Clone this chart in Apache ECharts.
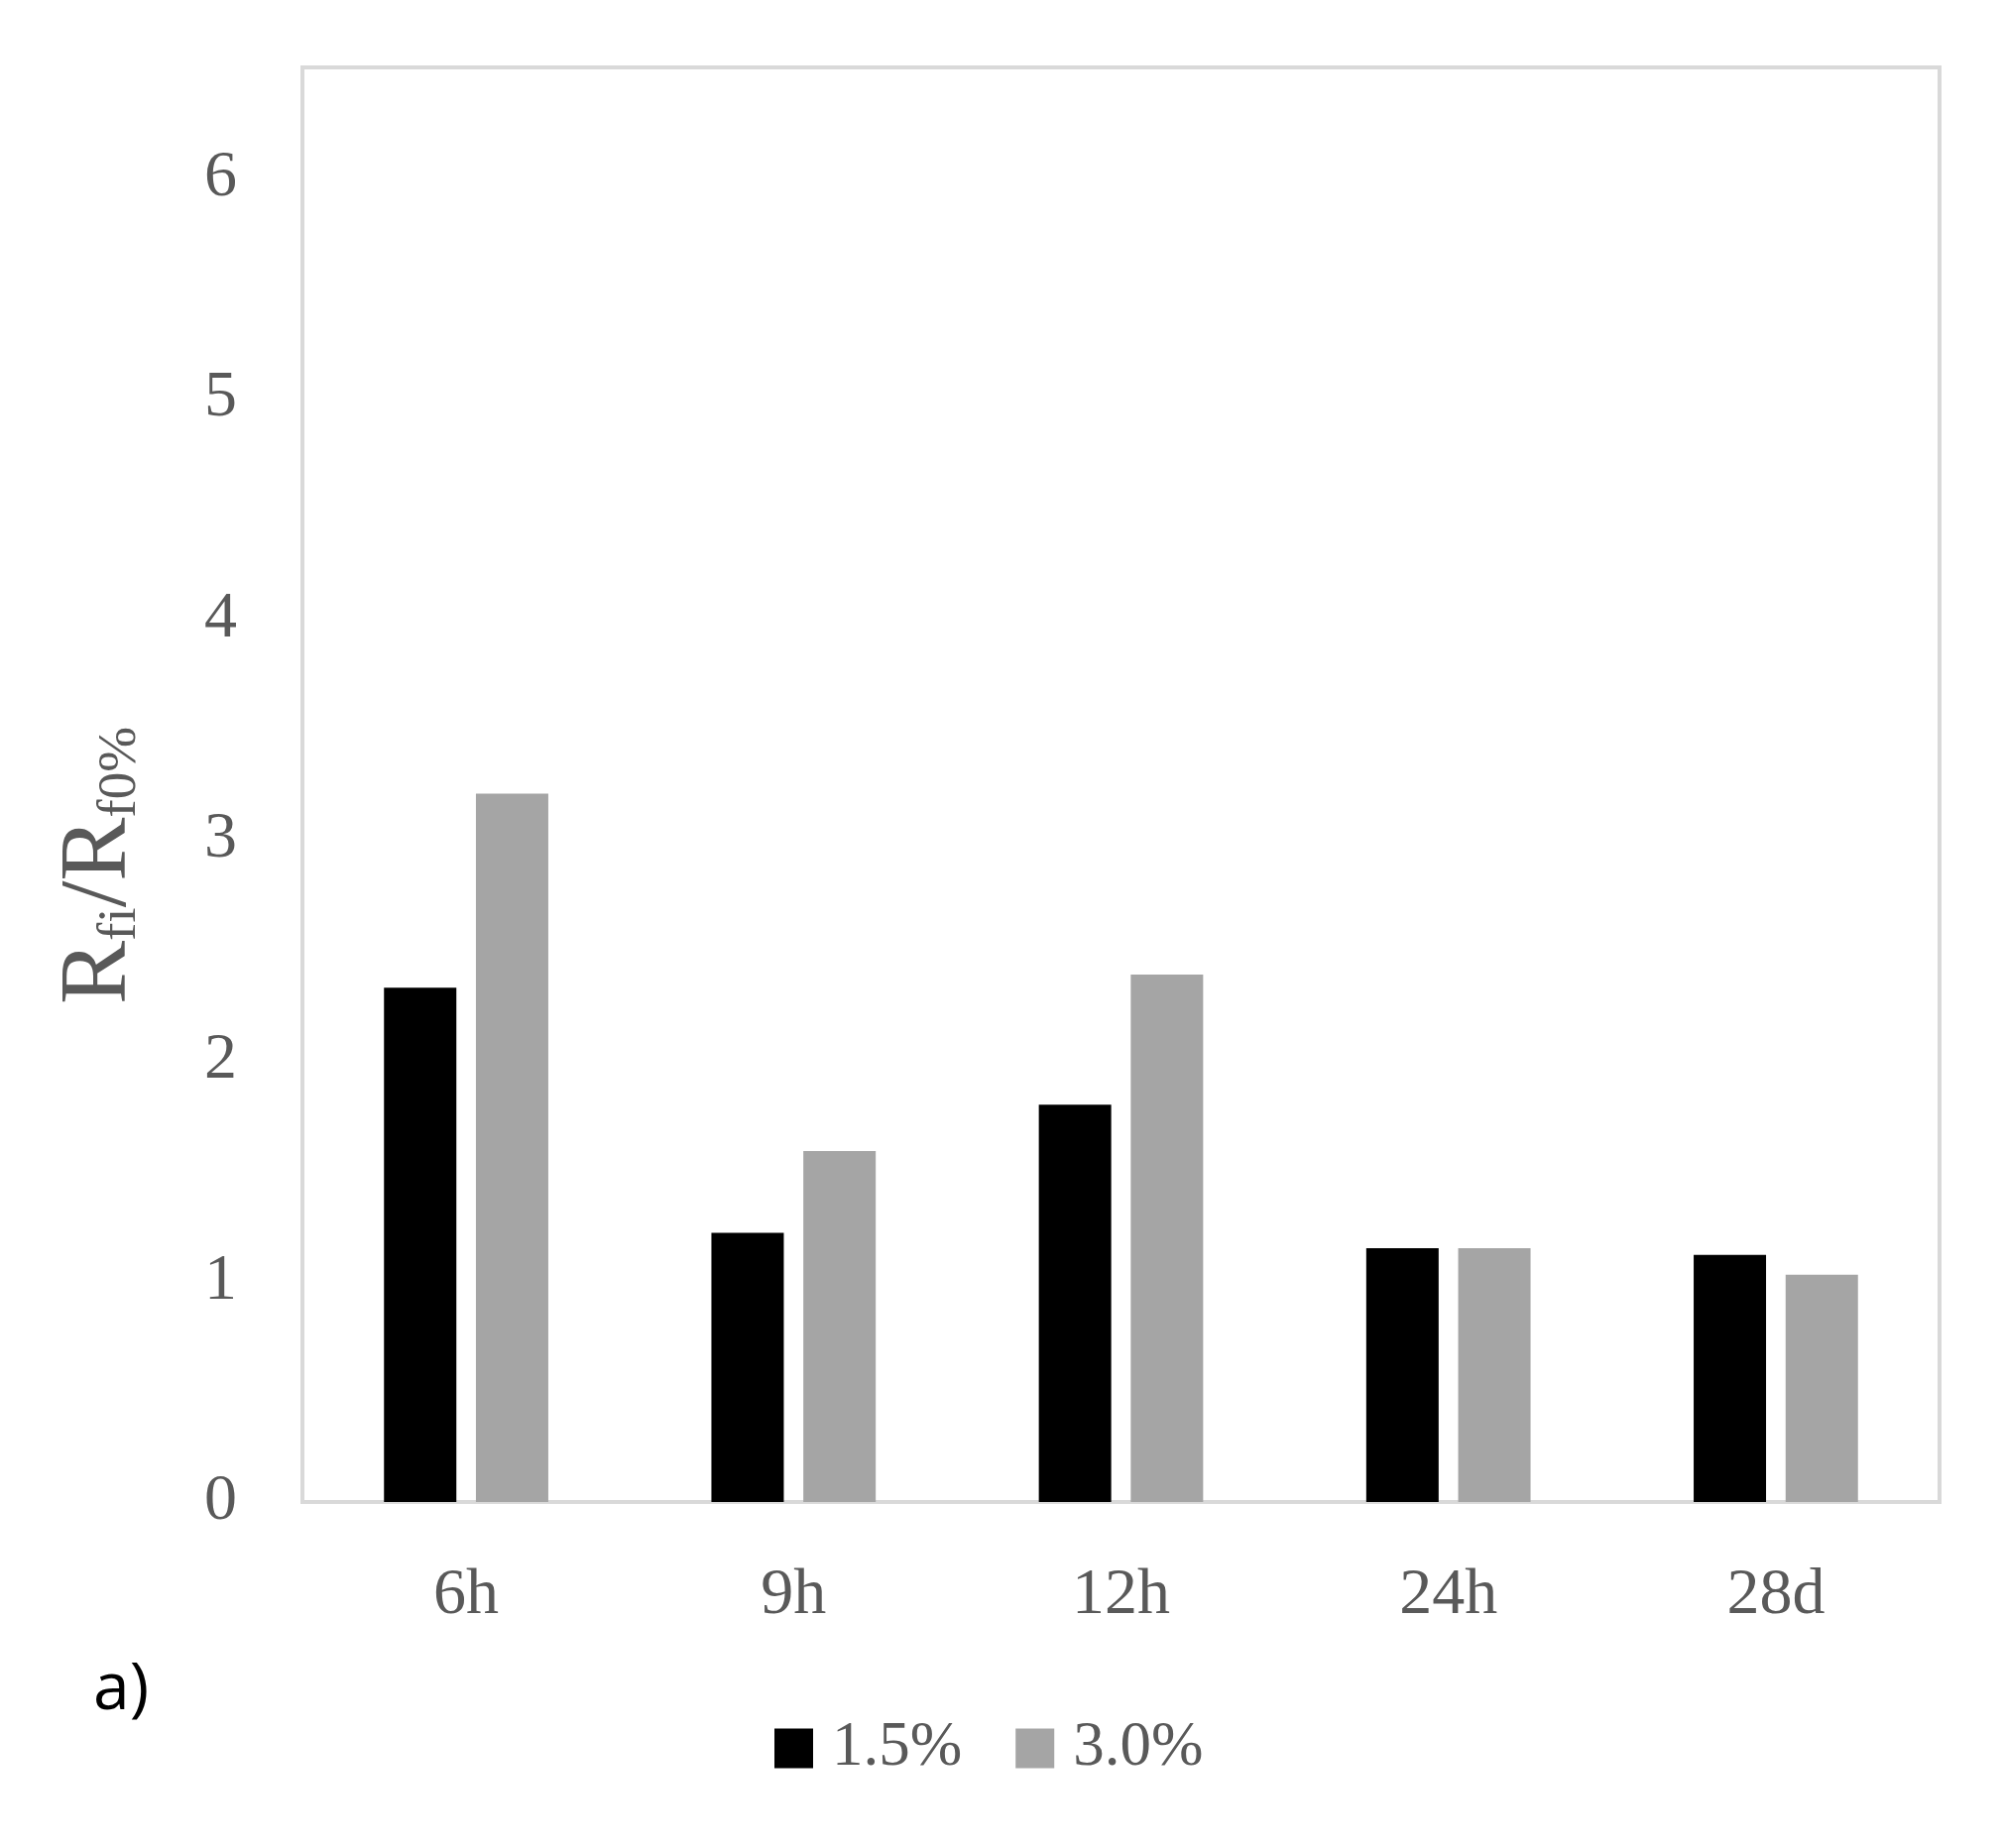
<!DOCTYPE html>
<html>
<head>
<meta charset="utf-8">
<script src="https://cdn.jsdelivr.net/npm/echarts@6/dist/echarts.min.js"></script>
<style>html,body{margin:0;padding:0;background:#fff;}#chart{width:2020px;height:1864px;}</style>
</head>
<body>
<div id="chart"></div>
<script>
const categories = ['6h', '9h', '12h', '24h', '28d'];
const series15 = [2.33, 1.22, 1.80, 1.15, 1.12];
const series30 = [3.21, 1.59, 2.39, 1.15, 1.03];
const seriesNames = ['1.5%', '3.0%'];

const serif = '"Liberation Serif", "DejaVu Serif", serif';
const chart = echarts.init(document.getElementById('chart'), null, {renderer: 'canvas'});
chart.setOption({
  backgroundColor: '#ffffff',
  animation: false,
  grid: {left: 305, right: 64, top: 68, bottom: 349, show: true, borderColor: '#d9d9d9', borderWidth: 4, backgroundColor: 'transparent'},
  legend: {
    data: seriesNames,
    left: 776, top: 1727,
    itemWidth: 39, itemHeight: 40, itemGap: 54,
    icon: 'rect',
    textStyle: {fontFamily: serif, fontSize: 63, color: '#595959', padding: [0, 0, 0, 14]}
  },
  xAxis: {
    type: 'category', data: categories,
    axisLine: {show: true, lineStyle: {color: '#d9d9d9', width: 4}},
    axisTick: {show: false},
    axisLabel: {fontFamily: serif, fontSize: 66, color: '#595959', margin: 62}
  },
  yAxis: {
    type: 'value', min: 0, max: 6.5, interval: 1,
    axisLine: {show: false}, axisTick: {show: false}, splitLine: {show: false},
    axisLabel: {fontFamily: serif, fontSize: 66, color: '#595959', margin: 66,
      formatter: v => Number.isInteger(v) ? String(v) : ''}
  },
  series: [
    {name: seriesNames[0], type: 'bar', data: series15, barWidth: 73, barGap: '27%', itemStyle: {color: '#000000'}},
    {name: seriesNames[1], type: 'bar', data: series30, barWidth: 73, itemStyle: {color: '#a5a5a5'}}
  ],
  graphic: [
    {type: 'text', x: 87, y: 873, rotation: Math.PI / 2,
      style: {text: '{r|R}{s|fi}{r|/R}{s|f0%}', align: 'center', verticalAlign: 'middle',
        rich: {
          r: {fontFamily: serif, fontSize: 96, lineHeight: 124, fill: '#595959', verticalAlign: 'bottom'},
          s: {fontFamily: serif, fontSize: 55, lineHeight: 55, fill: '#595959', verticalAlign: 'bottom'}
        }}},
    {type: 'text', left: 94, top: 1672,
      style: {text: 'a)', fontFamily: '"Open Sans", "Noto Sans", sans-serif', fontSize: 66, fill: '#000000'}}
  ]
});
</script>
</body>
</html>
